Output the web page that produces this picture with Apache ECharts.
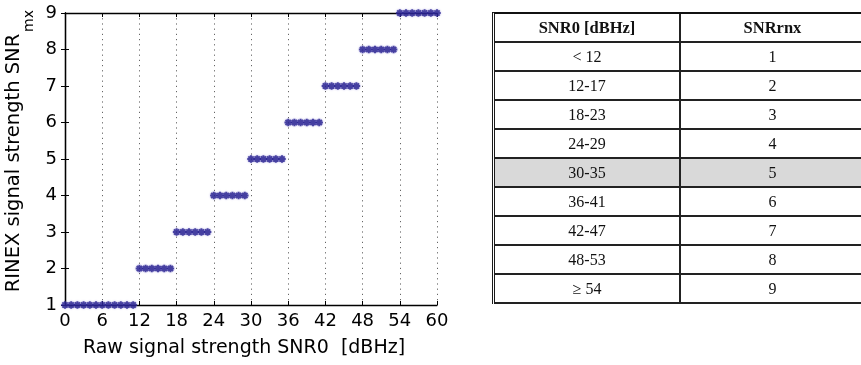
<!DOCTYPE html>
<html>
<head>
<meta charset="utf-8">
<script src="https://cdn.jsdelivr.net/npm/echarts@6/dist/echarts.min.js"></script>
<style>
  html, body { margin: 0; padding: 0; background: #fff; overflow: hidden; }
  #wrap { position: relative; width: 861px; height: 365px; overflow: hidden; }
  #chart { position: absolute; left: 0; top: 0; width: 861px; height: 365px; }
  #table {
    position: absolute; left: 492px; top: 12px; width: 372px;
    border-left: 3px double #1a1a1a; border-top: 2px solid #111;
    font-family: "Liberation Serif", "Times New Roman", serif; color: #111;
  }
  .row { display: flex; height: 29px; box-sizing: border-box; border-bottom: 2px solid #222; }
  .cell { text-align: center; line-height: 27px; font-size: 16px; box-sizing: border-box; }
  .c1 { width: 186px; border-right: 2px solid #222; }
  .c2 { width: 183px; }
  .head .cell { font-weight: bold; font-size: 16.5px; }
  .hl { background: #d9d9d9; }
</style>
</head>
<body>
<div id="wrap">
  <div id="chart"></div>
  <div id="table"></div>
</div>
<script>
// Raw signal strength SNR0 in dBHz, one sample per integer value
const snr0 = [0, 1, 2, 3, 4, 5, 6, 7, 8, 9, 10, 11, 12, 13, 14, 15, 16, 17, 18, 19, 20,
  21, 22, 23, 24, 25, 26, 27, 28, 29, 30, 31, 32, 33, 34, 35, 36, 37, 38, 39, 40,
  41, 42, 43, 44, 45, 46, 47, 48, 49, 50, 51, 52, 53, 54, 55, 56, 57, 58, 59, 60];
// RINEX signal strength indicator assigned to each SNR0 sample
const snrRnx = [1, 1, 1, 1, 1, 1, 1, 1, 1, 1, 1, 1,
  2, 2, 2, 2, 2, 2,
  3, 3, 3, 3, 3, 3,
  4, 4, 4, 4, 4, 4,
  5, 5, 5, 5, 5, 5,
  6, 6, 6, 6, 6, 6,
  7, 7, 7, 7, 7, 7,
  8, 8, 8, 8, 8, 8,
  9, 9, 9, 9, 9, 9, 9];

// Lookup table contents
const tableHeader = ['SNR0 [dBHz]', 'SNRrnx'];
const tableRanges = ['< 12', '12-17', '18-23', '24-29', '30-35', '36-41', '42-47', '48-53', '\u2265 54'];
const tableLevels = [1, 2, 3, 4, 5, 6, 7, 8, 9];
const highlightedRow = 4;

// Axis titles
const xTitle = 'Raw signal strength SNR0  [dBHz]';
const yTitle = 'RINEX signal strength SNR';
const yTitleSub = 'mx';

// Build the table
const tableEl = document.getElementById('table');
function addRow(a, b, cls) {
  const row = document.createElement('div');
  row.className = 'row' + (cls ? ' ' + cls : '');
  const c1 = document.createElement('div'); c1.className = 'cell c1'; c1.textContent = a;
  const c2 = document.createElement('div'); c2.className = 'cell c2'; c2.textContent = b;
  row.appendChild(c1); row.appendChild(c2);
  tableEl.appendChild(row);
}
addRow(tableHeader[0], tableHeader[1], 'head');
tableRanges.forEach((r, i) => addRow(r, String(tableLevels[i]), i === highlightedRow ? 'hl' : ''));

// Scatter plot
const font = 'DejaVu Sans';
const asterisk = 'path://M5,0L5,10M0,5L10,5M1.5,1.5L8.5,8.5M1.5,8.5L8.5,1.5';
const chart = echarts.init(document.getElementById('chart'), null, { renderer: 'canvas' });

const frameLine = { show: true, lineStyle: { color: '#000', width: 1.3 } };
const innerTick = { show: true, inside: true, length: 4, lineStyle: { color: '#000', width: 1 } };

chart.setOption({
  animation: false,
  backgroundColor: '#fff',
  grid: { left: 65, right: 424, top: 13, bottom: 60 },
  xAxis: [{
    type: 'value', min: 0, max: 60, interval: 6, position: 'bottom',
    axisLine: frameLine, axisTick: innerTick,
    axisLabel: { color: '#000', fontFamily: font, fontSize: 18, margin: 7 },
    splitLine: { show: true, lineStyle: { color: '#666', type: [1.2, 4], width: 1 } },
    name: xTitle, nameLocation: 'middle', nameGap: 34,
    nameTextStyle: { color: '#000', fontFamily: font, fontSize: 19, padding: [0, 14, 0, 0] }
  }, {
    type: 'value', min: 0, max: 60, interval: 6, position: 'top',
    axisLine: frameLine, axisTick: innerTick,
    axisLabel: { show: false }, splitLine: { show: false }
  }],
  yAxis: [{
    type: 'value', min: 1, max: 9, interval: 1, position: 'left',
    axisLine: frameLine, axisTick: innerTick,
    axisLabel: { color: '#000', fontFamily: font, fontSize: 18, margin: 8 },
    splitLine: { show: false }
  }, {
    type: 'value', min: 1, max: 9, interval: 1, position: 'right',
    axisLine: frameLine, axisTick: innerTick,
    axisLabel: { show: false }, splitLine: { show: false }
  }],
  graphic: [{
    type: 'text', x: 13.5, y: 163, rotation: Math.PI / 2,
    style: {
      text: yTitle, fill: '#000', font: '19.5px "DejaVu Sans"',
      align: 'center', verticalAlign: 'middle', textAlign: 'center', textVerticalAlign: 'middle'
    }
  }, {
    type: 'text', x: 29, y: 21, rotation: Math.PI / 2,
    style: {
      text: yTitleSub, fill: '#000', font: '14px "DejaVu Sans"',
      align: 'center', verticalAlign: 'middle', textAlign: 'center', textVerticalAlign: 'middle'
    }
  }],
  series: [{
    type: 'scatter',
    data: snr0.map((x, i) => [x, snrRnx[i]]),
    symbol: asterisk,
    symbolSize: 7.5,
    itemStyle: {
      color: '#28228e', borderColor: '#28228e', borderWidth: 2,
      shadowColor: 'rgba(80, 70, 200, 0.5)', shadowBlur: 2
    },
    clip: false
  }]
});
</script>
</body>
</html>
